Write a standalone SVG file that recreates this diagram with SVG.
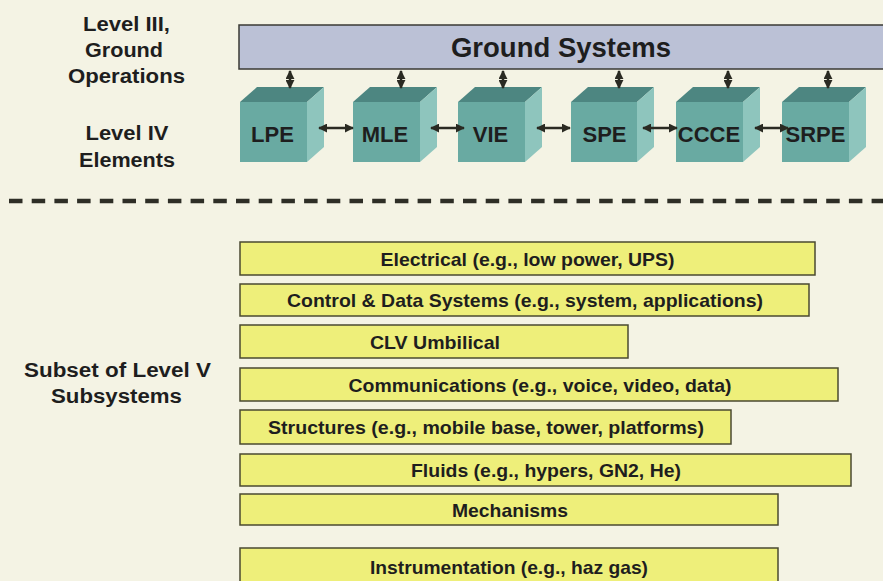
<svg xmlns="http://www.w3.org/2000/svg" width="883" height="581" viewBox="0 0 883 581">
<defs>
<marker id="ah" viewBox="0 0 10 10" refX="9" refY="5" markerWidth="3.6" markerHeight="3.6" orient="auto-start-reverse" markerUnits="strokeWidth">
<path d="M0,0 L10,5 L0,10 z" fill="#2a2a22"/>
</marker>
<style>
.lbl{font-family:"Liberation Sans",Arial,sans-serif;font-weight:bold;fill:#1e1e1e}
.side{font-size:20px;text-anchor:middle}
.cube{font-size:22px;text-anchor:middle}
.bar{font-size:19px;text-anchor:middle}
.front{fill:#69aaa2}
.top{fill:#4d8681}
.rs{fill:#8ec5bd}
.ybar{fill:#eeef7a;stroke:#4a4a30;stroke-width:1.5}
.conn{stroke:#2a2a22;stroke-width:2.5;fill:none;marker-start:url(#ah);marker-end:url(#ah)}
</style>
</defs>
<rect width="883" height="581" fill="#f4f3e4"/>

<g id="left-labels">
<text class="lbl side" x="126.5" y="31" textLength="87" lengthAdjust="spacingAndGlyphs">Level III,</text>
<text class="lbl side" x="124" y="57" textLength="78" lengthAdjust="spacingAndGlyphs">Ground</text>
<text class="lbl side" x="126.5" y="83" textLength="117" lengthAdjust="spacingAndGlyphs">Operations</text>
<text class="lbl side" x="127" y="140" textLength="83" lengthAdjust="spacingAndGlyphs">Level IV</text>
<text class="lbl side" x="127" y="167" textLength="96" lengthAdjust="spacingAndGlyphs">Elements</text>
<text class="lbl side" x="117.5" y="377" textLength="187" lengthAdjust="spacingAndGlyphs">Subset of Level V</text>
<text class="lbl side" x="116.5" y="403" textLength="131" lengthAdjust="spacingAndGlyphs">Subsystems</text>
</g>

<g id="ground-systems">
<rect x="239" y="25" width="650" height="44" fill="#bbc1d6" stroke="#3a3a34" stroke-width="1.5"/>
<text class="lbl" x="561" y="57" font-size="27.5" text-anchor="middle">Ground Systems</text>
</g>

<g id="LPE">
<polygon class="top" points="240,102 307,102 324,87 257,87"/>
<polygon class="rs" points="307,102 324,87 324,147 307,162"/>
<rect class="front" x="240" y="102" width="67" height="60"/>
<text class="lbl cube" x="272.5" y="142">LPE</text>
</g>
<g id="MLE">
<polygon class="top" points="353,102 420,102 437,87 370,87"/>
<polygon class="rs" points="420,102 437,87 437,147 420,162"/>
<rect class="front" x="353" y="102" width="67" height="60"/>
<text class="lbl cube" x="385" y="142">MLE</text>
</g>
<g id="VIE">
<polygon class="top" points="458,102 525,102 542,87 475,87"/>
<polygon class="rs" points="525,102 542,87 542,147 525,162"/>
<rect class="front" x="458" y="102" width="67" height="60"/>
<text class="lbl cube" x="490.5" y="142">VIE</text>
</g>
<g id="SPE">
<polygon class="top" points="571,102 637,102 654,87 588,87"/>
<polygon class="rs" points="637,102 654,87 654,147 637,162"/>
<rect class="front" x="571" y="102" width="66" height="60"/>
<text class="lbl cube" x="604.5" y="142">SPE</text>
</g>
<g id="CCCE">
<polygon class="top" points="676,102 743,102 760,87 693,87"/>
<polygon class="rs" points="743,102 760,87 760,147 743,162"/>
<rect class="front" x="676" y="102" width="67" height="60"/>
<text class="lbl cube" x="709" y="142">CCCE</text>
</g>
<g id="SRPE">
<polygon class="top" points="782,102 849,102 866,87 799,87"/>
<polygon class="rs" points="849,102 866,87 866,147 849,162"/>
<rect class="front" x="782" y="102" width="67" height="60"/>
<text class="lbl cube" x="815.5" y="142">SRPE</text>
</g>

<g id="connectors">
<line class="conn" x1="290" y1="71" x2="290" y2="88"/>
<line class="conn" x1="401" y1="71" x2="401" y2="88"/>
<line class="conn" x1="503" y1="71" x2="503" y2="88"/>
<line class="conn" x1="619" y1="71" x2="619" y2="88"/>
<line class="conn" x1="728" y1="71" x2="728" y2="88"/>
<line class="conn" x1="828" y1="71" x2="828" y2="88"/>
<line class="conn" x1="319" y1="128" x2="353" y2="128"/>
<line class="conn" x1="431" y1="128" x2="464" y2="128"/>
<line class="conn" x1="537" y1="128" x2="570" y2="128"/>
<line class="conn" x1="643" y1="128" x2="677" y2="128"/>
<line class="conn" x1="755" y1="128" x2="788" y2="128"/>
</g>

<g id="divider">
<line x1="9" y1="201" x2="883" y2="201" stroke="#2e2e26" stroke-width="4.5" stroke-dasharray="13.5,9.2"/>
</g>

<g id="electrical">
<rect class="ybar" x="240" y="242" width="575" height="33"/>
<text class="lbl bar" x="527.5" y="265.5" textLength="294" lengthAdjust="spacingAndGlyphs">Electrical (e.g., low power, UPS)</text>
</g>
<g id="control">
<rect class="ybar" x="240" y="284" width="569" height="32"/>
<text class="lbl bar" x="525" y="307" textLength="476" lengthAdjust="spacingAndGlyphs">Control &amp; Data Systems (e.g., system, applications)</text>
</g>
<g id="clv">
<rect class="ybar" x="240" y="325" width="388" height="33"/>
<text class="lbl bar" x="435" y="348.5" textLength="130" lengthAdjust="spacingAndGlyphs">CLV Umbilical</text>
</g>
<g id="communications">
<rect class="ybar" x="240" y="368" width="598" height="33"/>
<text class="lbl bar" x="540" y="391.5" textLength="383" lengthAdjust="spacingAndGlyphs">Communications (e.g., voice, video, data)</text>
</g>
<g id="structures">
<rect class="ybar" x="240" y="410" width="491" height="34"/>
<text class="lbl bar" x="486" y="434" textLength="436" lengthAdjust="spacingAndGlyphs">Structures (e.g., mobile base, tower, platforms)</text>
</g>
<g id="fluids">
<rect class="ybar" x="240" y="454" width="611" height="32"/>
<text class="lbl bar" x="546" y="477" textLength="270" lengthAdjust="spacingAndGlyphs">Fluids (e.g., hypers, GN2, He)</text>
</g>
<g id="mechanisms">
<rect class="ybar" x="240" y="494" width="538" height="31"/>
<text class="lbl bar" x="510" y="516.5" textLength="116" lengthAdjust="spacingAndGlyphs">Mechanisms</text>
</g>
<g id="instrumentation">
<rect class="ybar" x="240" y="548" width="538" height="36"/>
<text class="lbl bar" x="509" y="573.5" textLength="278" lengthAdjust="spacingAndGlyphs">Instrumentation (e.g., haz gas)</text>
</g>
</svg>
